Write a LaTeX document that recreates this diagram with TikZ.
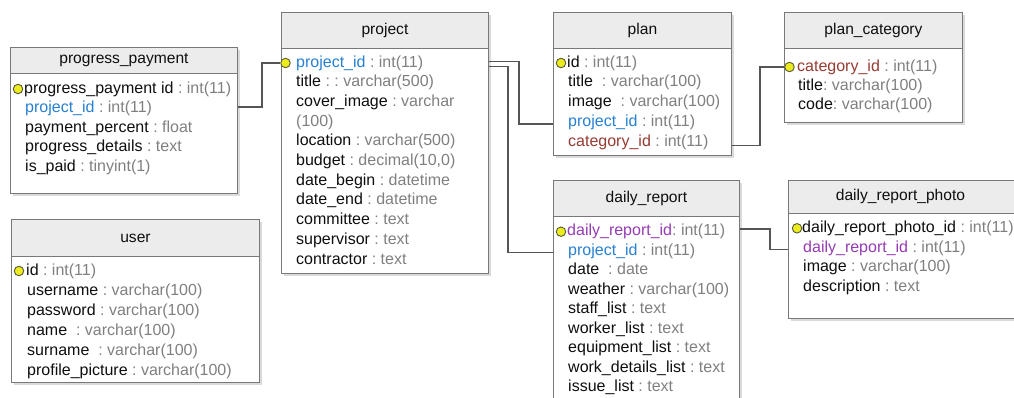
\documentclass[tikz,border=0pt]{standalone}
\usepackage{fontspec}
\setmainfont{Liberation Sans}
\usetikzlibrary{calc}
\definecolor{nmc}{RGB}{15,15,15}
\definecolor{tyc}{RGB}{128,128,128}
\definecolor{blc}{RGB}{40,128,210}
\definecolor{brc}{RGB}{150,60,50}
\definecolor{puc}{RGB}{150,60,180}
\definecolor{bordc}{RGB}{120,120,120}
\definecolor{hdrc}{RGB}{236,236,236}
\definecolor{shc}{RGB}{218,218,218}
\definecolor{connc}{RGB}{85,85,85}
\definecolor{pkf}{RGB}{235,235,30}
\definecolor{pkd}{RGB}{90,90,60}
\newcommand\ft[3][nmc]{\textcolor{#1}{#2}\textcolor{tyc}{#3}}
\begin{document}
\begin{tikzpicture}[x=1pt,y=-1pt,
 tbl/.style={draw=bordc, line width=0.9pt, fill=white, anchor=north west, inner sep=0pt},
 hdr/.style={draw=bordc, line width=0.9pt, fill=hdrc, anchor=north west, inner sep=0pt, font=\fontsize{15.6}{17}\selectfont, text=nmc},
 fld/.style={anchor=west, inner sep=0pt, text height=11.5pt, text depth=3.5pt, font=\fontsize{16}{18}\selectfont},
 pk/.style={circle, draw=pkd, fill=pkf, minimum size=9.5pt, inner sep=0pt, line width=0.9pt},
 conn/.style={draw=connc, line width=1.5pt},
 shd/.style={fill=shc}]
\useasboundingbox (0,0) rectangle (1014,397);
\fill[white] (0,0) rectangle (1014,397);
\clip (0,0) rectangle (1014,397);

% ---------- progress_payment
\fill[shd] (12.5,49.5) rectangle (239.5,195.5);
\node[tbl, minimum width=227pt, minimum height=146pt] (pp) at (10,47) {};
\node[hdr, minimum width=227pt, minimum height=26pt] (pph) at (10,47) {progress\_payment};
\node[pk] (ppk) at (18,89) {};
\node[fld] (ppf1) at (24,89) {\ft{progress\_payment id}{\ :\ int(11)}};
\node[fld] (ppf2) at (25,108.5) {\ft[blc]{project\_id}{\ :\ int(11)}};
\node[fld] (ppf3) at (25,128) {\ft{payment\_percent}{\ :\ float}};
\node[fld] (ppf4) at (25,147.5) {\ft{progress\_details}{\ :\ text}};
\node[fld] (ppf5) at (25,167) {\ft{is\_paid}{\ :\ tinyint(1)}};

% ---------- project
\fill[shd] (283.5,14.5) rectangle (490.5,275.5);
\node[tbl, minimum width=207pt, minimum height=261pt] (prj) at (281,12) {};
\node[hdr, minimum width=207pt, minimum height=36pt] (prjh) at (281,12) {project};
\node[pk] (prjk) at (285.5,63) {};
\node[fld] (prjf1) at (296,63) {\ft[blc]{project\_id}{\ :\ int(11)}};
\node[fld] (prjf2) at (296,82.7) {\ft{title}{\ :\ :\ varchar(500)}};
\node[fld] (prjf3) at (296,102.4) {\ft{cover\_image}{\ :\ varchar}};
\node[fld] (prjf3b) at (296,122.1) {\textcolor{tyc}{(100)}};
\node[fld] (prjf4) at (296,141.8) {\ft{location}{\ :\ varchar(500)}};
\node[fld] (prjf5) at (296,161.5) {\ft{budget}{\ :\ decimal(10,0)}};
\node[fld] (prjf6) at (296,181.2) {\ft{date\_begin}{\ :\ datetime}};
\node[fld] (prjf7) at (296,200.9) {\ft{date\_end}{\ :\ datetime}};
\node[fld] (prjf8) at (296,220.6) {\ft{committee}{\ :\ text}};
\node[fld] (prjf9) at (296,240.3) {\ft{supervisor}{\ :\ text}};
\node[fld] (prjf10) at (296,260) {\ft{contractor}{\ :\ text}};

% ---------- plan
\fill[shd] (555.5,14.5) rectangle (733.5,157.5);
\node[tbl, minimum width=178pt, minimum height=143pt] (pln) at (553,12) {};
\node[hdr, minimum width=178pt, minimum height=36pt] (plnh) at (553,12) {plan};
\node[pk] (plnk) at (561,63) {};
\node[fld] (plnf1) at (567,63) {\ft{id}{\ :\ int(11)}};
\node[fld] (plnf2) at (568,82.8) {\ft{title}{\ \ :\ varchar(100)}};
\node[fld] (plnf3) at (568,102.6) {\ft{image}{\ \ :\ varchar(100)}};
\node[fld] (plnf4) at (568,122.4) {\ft[blc]{project\_id}{\ :\ int(11)}};
\node[fld] (plnf5) at (568,142.2) {\ft[brc]{category\_id}{\ :\ int(11)}};

% ---------- plan_category
\fill[shd] (786.5,14.5) rectangle (964.5,124.5);
\node[tbl, minimum width=178pt, minimum height=110pt] (pc) at (784,12) {};
\node[hdr, minimum width=178pt, minimum height=36pt] (pch) at (784,12) {plan\_category};
\node[pk] (pck) at (789.5,67) {};
\node[fld] (pcf1) at (797,67) {\ft[brc]{category\_id}{\ :\ int(11)}};
\node[fld] (pcf2) at (798,86) {\ft{title}{:\ varchar(100)}};
\node[fld] (pcf3) at (798,105) {\ft{code}{:\ varchar(100)}};

% ---------- user
\fill[shd] (13.5,221.5) rectangle (261.5,384.5);
\node[tbl, minimum width=248pt, minimum height=163pt] (usr) at (11,219) {};
\node[hdr, minimum width=248pt, minimum height=37pt] (usrh) at (11,219) {user};
\node[pk] (usrk) at (19,271) {};
\node[fld] (usrf1) at (26,271) {\ft{id}{\ :\ int(11)}};
\node[fld] (usrf2) at (27,291) {\ft{username}{\ :\ varchar(100)}};
\node[fld] (usrf3) at (27,311) {\ft{password}{\ :\ varchar(100)}};
\node[fld] (usrf4) at (27,331) {\ft{name}{\ \ :\ varchar(100)}};
\node[fld] (usrf5) at (27,351) {\ft{surname}{\ \ :\ varchar(100)}};
\node[fld] (usrf6) at (27,371) {\ft{profile\_picture}{\ :\ varchar(100)}};

% ---------- daily_report
\fill[shd] (555.5,182.5) rectangle (741.5,430);
\node[tbl, minimum width=186pt, minimum height=240pt] (dr) at (553,180) {};
\node[hdr, minimum width=186pt, minimum height=36pt] (drh) at (553,180) {daily\_report};
\node[pk] (drk) at (561,231.7) {};
\node[fld] (drf1) at (567,231.7) {\ft[puc]{daily\_report\_id}{:\ int(11)}};
\node[fld] (drf2) at (568,251.2) {\ft[blc]{project\_id}{\ :\ int(11)}};
\node[fld] (drf3) at (568,270.7) {\ft{date}{\ \ :\ date}};
\node[fld] (drf4) at (568,290.2) {\ft{weather}{\ :\ varchar(100)}};
\node[fld] (drf5) at (568,309.7) {\ft{staff\_list}{\ :\ text}};
\node[fld] (drf6) at (568,329.2) {\ft{worker\_list}{\ :\ text}};
\node[fld] (drf7) at (568,348.7) {\ft{equipment\_list}{\ :\ text}};
\node[fld] (drf8) at (568,368.2) {\ft{work\_details\_list}{\ :\ text}};
\node[fld] (drf9) at (568,387.7) {\ft{issue\_list}{\ :\ text}};

% ---------- daily_report_photo
\fill[shd] (790.5,182.5) rectangle (1022.5,320.5);
\node[tbl, minimum width=232pt, minimum height=138pt] (ph) at (788,180) {};
\node[hdr, minimum width=232pt, minimum height=33pt] (phh) at (788,180) {\hspace*{-8pt}daily\_report\_photo};
\node[pk] (phk) at (797,228.3) {};
\node[fld] (phf1) at (802,228.3) {\ft{daily\_report\_photo\_id}{\ :\ int(11)}};
\node[fld] (phf2) at (803,248.1) {\ft[puc]{daily\_report\_id}{\ :\ int(11)}};
\node[fld] (phf3) at (803,267.8) {\ft{image}{\ :\ varchar(100)}};
\node[fld] (phf4) at (803,287.4) {\ft{description}{\ :\ text}};

% ---------- connectors
\draw[conn] ($(ppf2 -| pp.east)+(0,-1.5)$) -- ++(24,0) |- (prjk);
\draw[conn] ($(prjf1 -| prj.east)+(0,-1.5)$) -- ++(30,0) |- ($(plnf4 -| pln.west)+(0,1.5)$);
\draw[conn] ($(prjf1 -| prj.east)+(0,3.5)$) -- ++(19,0) |- ($(drf2 -| dr.west)+(0,1.5)$);
\draw[conn] ($(plnf5 -| pln.east)+(0,3.5)$) -- ++(28,0) |- (pck);
\draw[conn] ($(drf1 -| dr.east)+(0,-2.5)$) -- ++(30,0) |- ($(phf2 -| ph.west)+(0,1.5)$);
\end{tikzpicture}
\end{document}
